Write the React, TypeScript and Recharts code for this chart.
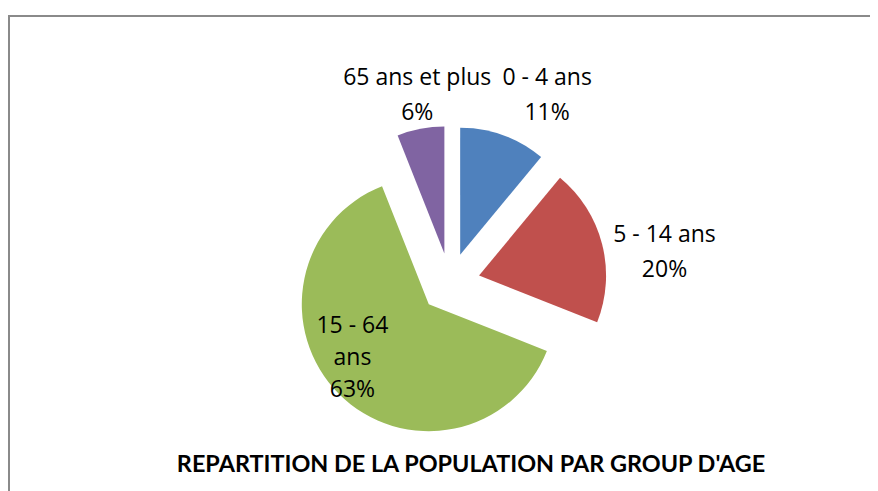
import { PieChart, Pie, Cell } from "recharts";

const groups = ["0 - 4 ans", "5 - 14 ans", "15 - 64 ans", "65 ans et plus"];
const shares = [11, 20, 63, 6];
const colors = ["#4F81BD", "#C0504D", "#9BBB59", "#8064A2"];

const data = groups.map((name, i) => ({ name, value: shares[i] }));
const total = shares.reduce((a, b) => a + b, 0);

const RAD = Math.PI / 180;
const EXPLODE = 30;
const OUTER = 127;
const CX = 442;
const CY = 275;

// mid angle of each slice (recharts convention: degrees ccw from 3 o'clock)
const midAngles: number[] = [];
{
  let acc = 0;
  shares.forEach((v) => {
    midAngles.push(90 - ((acc + v / 2) / total) * 360);
    acc += v;
  });
}

const offsetOf = (i: number) => ({
  dx: EXPLODE * Math.cos(midAngles[i] * RAD),
  dy: -EXPLODE * Math.sin(midAngles[i] * RAD),
});

// label layout tweaks (inside slice or outside, plus nudges like excel's best fit)
const labelInside = [false, false, true, false];
const labelNudge = [
  [27, 5],
  [14, 19],
  [-12, -13],
  [6, 14],
];
const labelLines = [["0 - 4 ans"], ["5 - 14 ans"], ["15 - 64", "ans"], ["65 ans et plus"]];

const FONT = "'Open Sans', 'Noto Sans', sans-serif";
const TITLE_FONT = "Lato, 'Open Sans', sans-serif";

const renderLabel = (props: any) => {
  const { cx, cy, index, value } = props;
  const a = midAngles[index] * RAD;
  const dist = labelInside[index] ? EXPLODE + 91 : EXPLODE + OUTER + 50;
  const x = cx + dist * Math.cos(a) + labelNudge[index][0];
  const y = cy - dist * Math.sin(a) + labelNudge[index][1];
  const lines = [...labelLines[index], `${value}%`];
  const step = labelInside[index] ? 32 : 35;
  const y0 = y - ((lines.length - 1) * step) / 2;
  return (
    <text
      key={`lbl-${index}`}
      x={x}
      y={y0}
      textAnchor="middle"
      dominantBaseline="central"
      fill="#000"
      fontSize={23}
      fontFamily={FONT}
    >
      {lines.map((l, k) => (
        <tspan key={k} x={x} y={y0 + k * step}>
          {l}
        </tspan>
      ))}
    </text>
  );
};

export default function App() {
  return (
    <div style={{ position: "relative", width: 870, height: 483, background: "#fff" }}>
      <div
        style={{
          position: "absolute",
          left: 0,
          top: 7,
          width: 870,
          height: 476,
          borderTop: "2px solid #8a8a8a",
          borderLeft: "2px solid #8a8a8a",
          boxSizing: "border-box",
        }}
      />
      <PieChart
        width={870}
        height={483}
        margin={{ top: 0, right: 0, bottom: 0, left: 0 }}
        style={{ position: "absolute", left: 0, top: 0 }}
      >
        <Pie
          data={data}
          dataKey="value"
          nameKey="name"
          cx={CX}
          cy={CY}
          outerRadius={OUTER}
          startAngle={90}
          endAngle={-270}
          stroke="none"
          label={renderLabel}
          labelLine={false}
          isAnimationActive={false}
        >
          {data.map((d, i) => {
            const { dx, dy } = offsetOf(i);
            return (
              <Cell
                key={d.name}
                fill={colors[i]}
                transform={`translate(${dx.toFixed(2)}, ${dy.toFixed(2)})`}
              />
            );
          })}
        </Pie>
      </PieChart>
      <div
        style={{
          position: "absolute",
          left: 63,
          width: 800,
          top: 441,
          textAlign: "center",
          fontFamily: TITLE_FONT,
          fontWeight: 700,
          fontSize: 23.4,
          lineHeight: "28px",
          color: "#000",
        }}
      >
        REPARTITION DE LA POPULATION PAR GROUP D'AGE
      </div>
    </div>
  );
}
